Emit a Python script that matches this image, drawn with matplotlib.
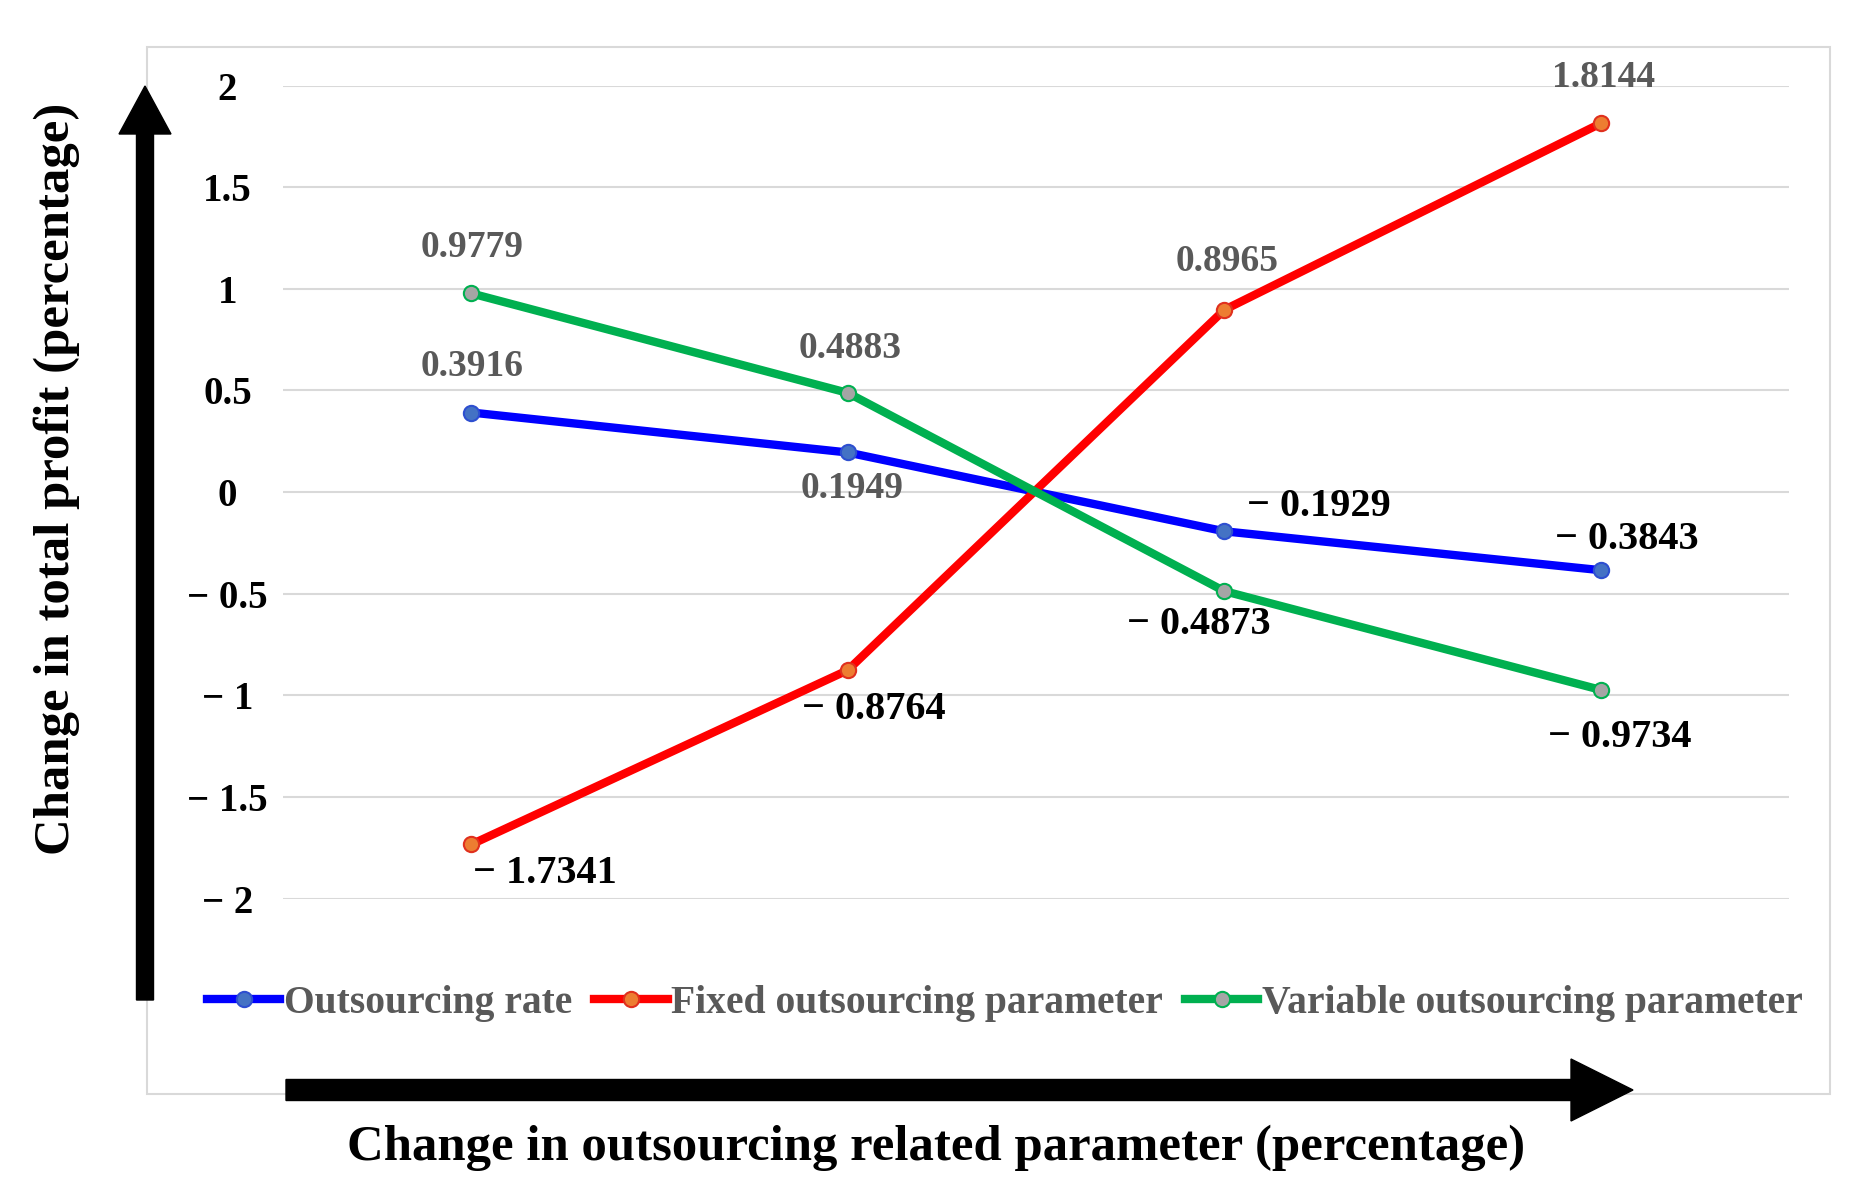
import matplotlib
matplotlib.use("Agg")
from matplotlib import pyplot
from matplotlib.patches import FancyArrow, Rectangle

categories = ["c1", "c2", "c3", "c4"]
outsourcing_rate = [0.3916, 0.1949, -0.1929, -0.3843]
fixed_param = [-1.7341, -0.8764, 0.8965, 1.8144]
variable_param = [0.9779, 0.4883, -0.4873, -0.9734]
series_names = ["Outsourcing rate", "Fixed outsourcing parameter", "Variable outsourcing parameter"]
y_ticks = [-2, -1.5, -1, -0.5, 0, 0.5, 1, 1.5, 2]

# label offsets in points (layout only)
offsets = [
    [(1, 33), (3, -26), (68, 18), (19, 22)],
    [(53, -21), (19, -28), (2, 35), (2, 33)],
    [(1, 33), (2, 32), (-18, -24), (14, -34)],
]
line_colors = ["#0000FF", "#FF0000", "#00B050"]
face_colors = ["#4472C4", "#ED7D31", "#A5A5A5"]
edge_colors = ["#2E4FD0", "#E0301E", "#00B050"]

FONT = "Liberation Serif"


def fmt(v):
    if v < 0:
        return "\u2212 %.4f" % abs(v)
    return "%.4f" % v


def fmt_tick(v):
    s = ("%g" % abs(v))
    return ("\u2212 " + s) if v < 0 else s


fig = pyplot.figure(figsize=(18.69, 12.03), dpi=100)
ax = fig.add_axes([0.1514, 0.2531, 0.8058, 0.6757])

x = list(range(len(categories)))
all_series = [outsourcing_rate, fixed_param, variable_param]
for i, vals in enumerate(all_series):
    ax.plot(x, vals, color=line_colors[i], lw=6, marker="o", markersize=11,
            markerfacecolor=face_colors[i], markeredgecolor=edge_colors[i],
            markeredgewidth=1.5, label=series_names[i], zorder=3)
    for j, v in enumerate(vals):
        ax.annotate(fmt(v), (x[j], v), xytext=offsets[i][j], textcoords="offset points",
                    ha="center", va="center", fontsize=27 if v >= 0 else 29, fontweight="bold",
                    family=FONT, color="#595959" if v >= 0 else "black", zorder=4)

ax.set_xlim(-0.5, 3.5)
ax.set_ylim(-2, 2)
ax.set_xticks([])
ax.set_yticks(y_ticks)
ax.set_yticklabels([fmt_tick(t) for t in y_ticks])
for lab in ax.get_yticklabels():
    lab.set_ha("center")
    lab.set_fontfamily(FONT)
    lab.set_fontweight("bold")
    lab.set_fontsize(28)
ax.tick_params(axis="y", length=0, pad=40)
ax.grid(axis="y", color="#D9D9D9", lw=1.5)
ax.set_axisbelow(True)
for s in ax.spines.values():
    s.set_visible(False)

leg = ax.legend(loc="center", bbox_to_anchor=(1005 / 1869, 1 - 1003 / 1203),
                bbox_transform=fig.transFigure, ncol=3, frameon=False,
                prop={"family": FONT, "weight": "bold", "size": 28.5},
                handlelength=1.85, handletextpad=0.1, columnspacing=0.55)
for t in leg.get_texts():
    t.set_color("#595959")

# outer border
fig.add_artist(Rectangle((1.47, 1.09), 16.83, 10.47, transform=fig.dpi_scale_trans,
                         fill=False, edgecolor="#D9D9D9", lw=1.5, zorder=0))

# axis arrows
fig.add_artist(FancyArrow(1.45, 2.03, 0, 9.14, width=0.17, head_width=0.52, head_length=0.48,
                          length_includes_head=True, transform=fig.dpi_scale_trans,
                          color="black", zorder=5))
fig.add_artist(FancyArrow(2.86, 1.13, 13.47, 0, width=0.21, head_width=0.62, head_length=0.62,
                          length_includes_head=True, transform=fig.dpi_scale_trans,
                          color="black", zorder=5))

fig.text(57 / 1869, 1 - 479 / 1203, "Change in total profit (percentage)", rotation=90,
         ha="center", va="center", fontsize=36.5, fontweight="bold", family=FONT)
fig.text(936 / 1869, 1 - 1148 / 1203, "Change in outsourcing related parameter (percentage)",
         ha="center", va="center", fontsize=36.5, fontweight="bold", family=FONT)

fig.savefig("out.png", dpi=100)
